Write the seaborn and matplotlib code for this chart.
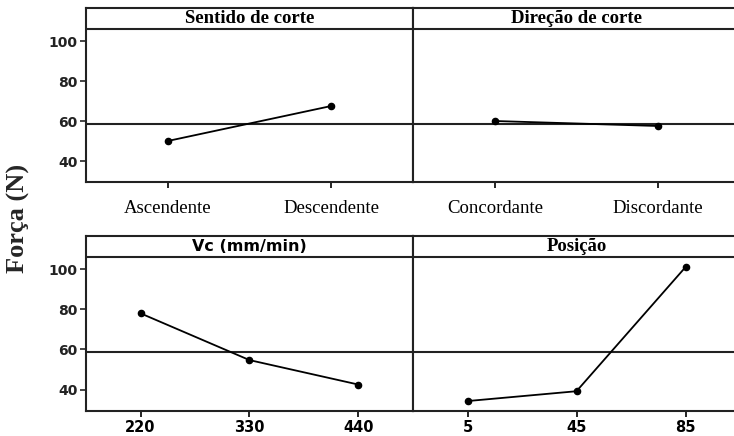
import matplotlib
matplotlib.use("Agg")
import matplotlib.pyplot as plt
import seaborn as sns
import pandas as pd

# ---- data ----
sentido_cats = ["Ascendente", "Descendente"]
sentido_vals = [50.0, 67.5]
direcao_cats = ["Concordante", "Discordante"]
direcao_vals = [60.0, 57.5]
vc_cats = ["220", "330", "440"]
vc_vals = [78.0, 54.7, 42.5]
posicao_cats = ["5", "45", "85"]
posicao_vals = [34.3, 39.2, 101.0]
grand_mean = 58.5
panel_titles = ["Sentido de corte", "Direção de corte", "Vc (mm/min)", "Posição"]
y_ticks = [40, 60, 80, 100]
y_label = "Força (N)"

sns.set_style("ticks")
plt.rcParams["font.family"] = ["DejaVu Sans"]

fig = plt.figure(figsize=(7.34, 4.36), dpi=100)

W = 327 / 734
positions = [
    (86 / 734, 1 - 182 / 436, W, 174 / 436),
    (413 / 734, 1 - 182 / 436, W, 174 / 436),
    (86 / 734, 1 - 410.7 / 436, W, 174.7 / 436),
    (413 / 734, 1 - 410.7 / 436, W, 174.7 / 436),
]
panels = [
    (sentido_cats, sentido_vals),
    (direcao_cats, direcao_vals),
    (vc_cats, vc_vals),
    (posicao_cats, posicao_vals),
]
title_fonts = [
    dict(family="Liberation Serif", weight="bold", size=13.5),
    dict(family="Liberation Serif", weight="bold", size=13.5),
    dict(family="DejaVu Sans", weight="bold", size=11.5),
    dict(family="Liberation Serif", weight="bold", size=13.5),
]
xtick_fonts = [
    dict(family="Liberation Serif", size=13.5),
    dict(family="Liberation Serif", size=13.5),
    dict(family="DejaVu Sans", weight="bold", size=10.5),
    dict(family="DejaVu Sans", weight="bold", size=10.5),
]
xtick_pads = [9, 9, 2.5, 2.5]

ylo, yhi, yhead = 29.5, 116.5, 106.0

for i, ((cats, vals), pos) in enumerate(zip(panels, positions)):
    ax = fig.add_axes(pos)
    df = pd.DataFrame({"nivel": cats, "forca": vals})
    sns.pointplot(data=df, x="nivel", y="forca", order=cats, color="black",
                  errorbar=None, markers="o", markersize=4.5, linewidth=1.3, ax=ax)
    ax.set_xlim(-0.5, len(cats) - 0.5)
    ax.set_ylim(ylo, yhi)
    ax.axhline(grand_mean, color="#222222", lw=1.5, zorder=1)
    ax.axhline(yhead, color="#222222", lw=1.5, zorder=1)
    ax.text(0.5, (yhead + yhi) / 2, panel_titles[i], transform=ax.get_yaxis_transform(),
            ha="center", va="center", color="black", **title_fonts[i])
    for s in ax.spines.values():
        s.set_visible(True)
        s.set_linewidth(1.5)
        s.set_color("#222222")
    ax.set_xlabel("")
    ax.set_ylabel("")
    ax.tick_params(axis="x", length=4, width=1.2, pad=xtick_pads[i], colors="black")
    for lab in ax.get_xticklabels():
        lab.set(**xtick_fonts[i])
    if i % 2 == 0:
        ax.set_yticks(y_ticks)
        ax.set_yticklabels([str(t) for t in y_ticks], fontweight="bold", fontsize=10, color="#222222")
        ax.tick_params(axis="y", length=4, width=1.2, pad=2)
    else:
        ax.set_yticks([])

fig.text(0.025, 0.5, y_label, rotation=90, ha="center", va="center",
         family="Liberation Serif", weight="bold", size=19)

fig.savefig("out.png", dpi=100)
